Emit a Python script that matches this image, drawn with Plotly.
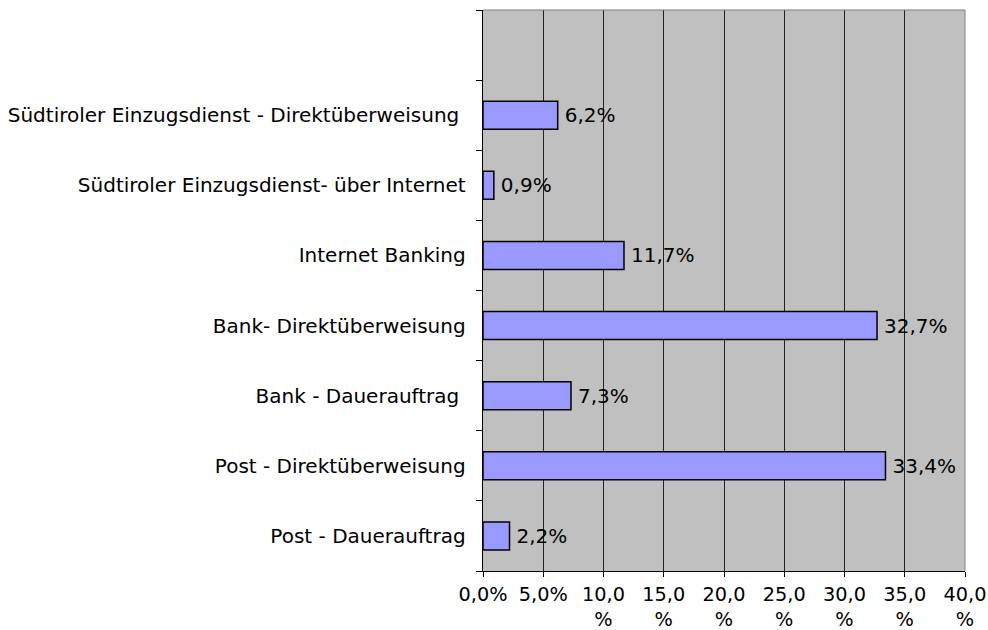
import plotly.graph_objects as go

categories = [
    "Post - Dauerauftrag",
    "Post - Direktüberweisung",
    "Bank - Dauerauftrag ",
    "Bank- Direktüberweisung",
    "Internet Banking",
    "Südtiroler Einzugsdienst- über Internet",
    "Südtiroler Einzugsdienst - Direktüberweisung ",
]
values = [2.2, 33.4, 7.3, 32.7, 11.7, 0.9, 6.2]
value_labels = ["2,2%", "33,4%", "7,3%", "32,7%", "11,7%", "0,9%", "6,2%"]
tick_vals = [0, 5, 10, 15, 20, 25, 30, 35, 40]
tick_text = ["0,0%", "5,0%", "10,0<br>%", "15,0<br>%", "20,0<br>%", "25,0<br>%",
             "30,0<br>%", "35,0<br>%", "40,0<br>%"]
category_order = categories + [""]

font = dict(family="DejaVu Sans", size=20, color="black")
xfont = dict(family="DejaVu Sans", size=19.3, color="black")

fig = go.Figure(go.Bar(
    x=values, y=categories, orientation="h",
    marker=dict(color="#9999FF", line=dict(color="black", width=1.5)),
    width=0.4,
    text=["\u2009" + t for t in value_labels], textposition="outside", cliponaxis=False,
    textfont=font,
))

fig.update_layout(
    width=988, height=630,
    margin=dict(l=483, r=23, t=10, b=59, autoexpand=False),
    plot_bgcolor="#C0C0C0", paper_bgcolor="white",
    font=font, showlegend=False,
    xaxis=dict(range=[0, 40], tickvals=tick_vals, ticktext=tick_text,
               showgrid=True, gridcolor="#222222", gridwidth=1,
               ticks="outside", ticklen=5, tickcolor="black",
               showline=True, linecolor="black", linewidth=1, mirror=False,
               zeroline=False, tickfont=xfont, automargin=False,
               ticklabelstandoff=1),
    yaxis=dict(type="category", categoryorder="array", categoryarray=category_order,
               range=[-0.5, 7.5], tickson="boundaries", ticks="outside", ticklen=6,
               tickcolor="black", showline=True, linecolor="black", linewidth=1,
               showgrid=False, tickfont=font, ticksuffix=" ", automargin=False,
               ticklabelstandoff=6),
    shapes=[dict(type="line", xref="paper", yref="paper", x0=0, x1=1, y0=1, y1=1,
                 line=dict(color="#808080", width=1)),
            dict(type="line", xref="paper", yref="paper", x0=1, x1=1, y0=0, y1=1,
                 line=dict(color="#808080", width=1))],
)

fig.write_html("out.html", config={"displayModeBar": False},
               post_script="document.body.style.margin='0';document.body.style.overflow='hidden';")
